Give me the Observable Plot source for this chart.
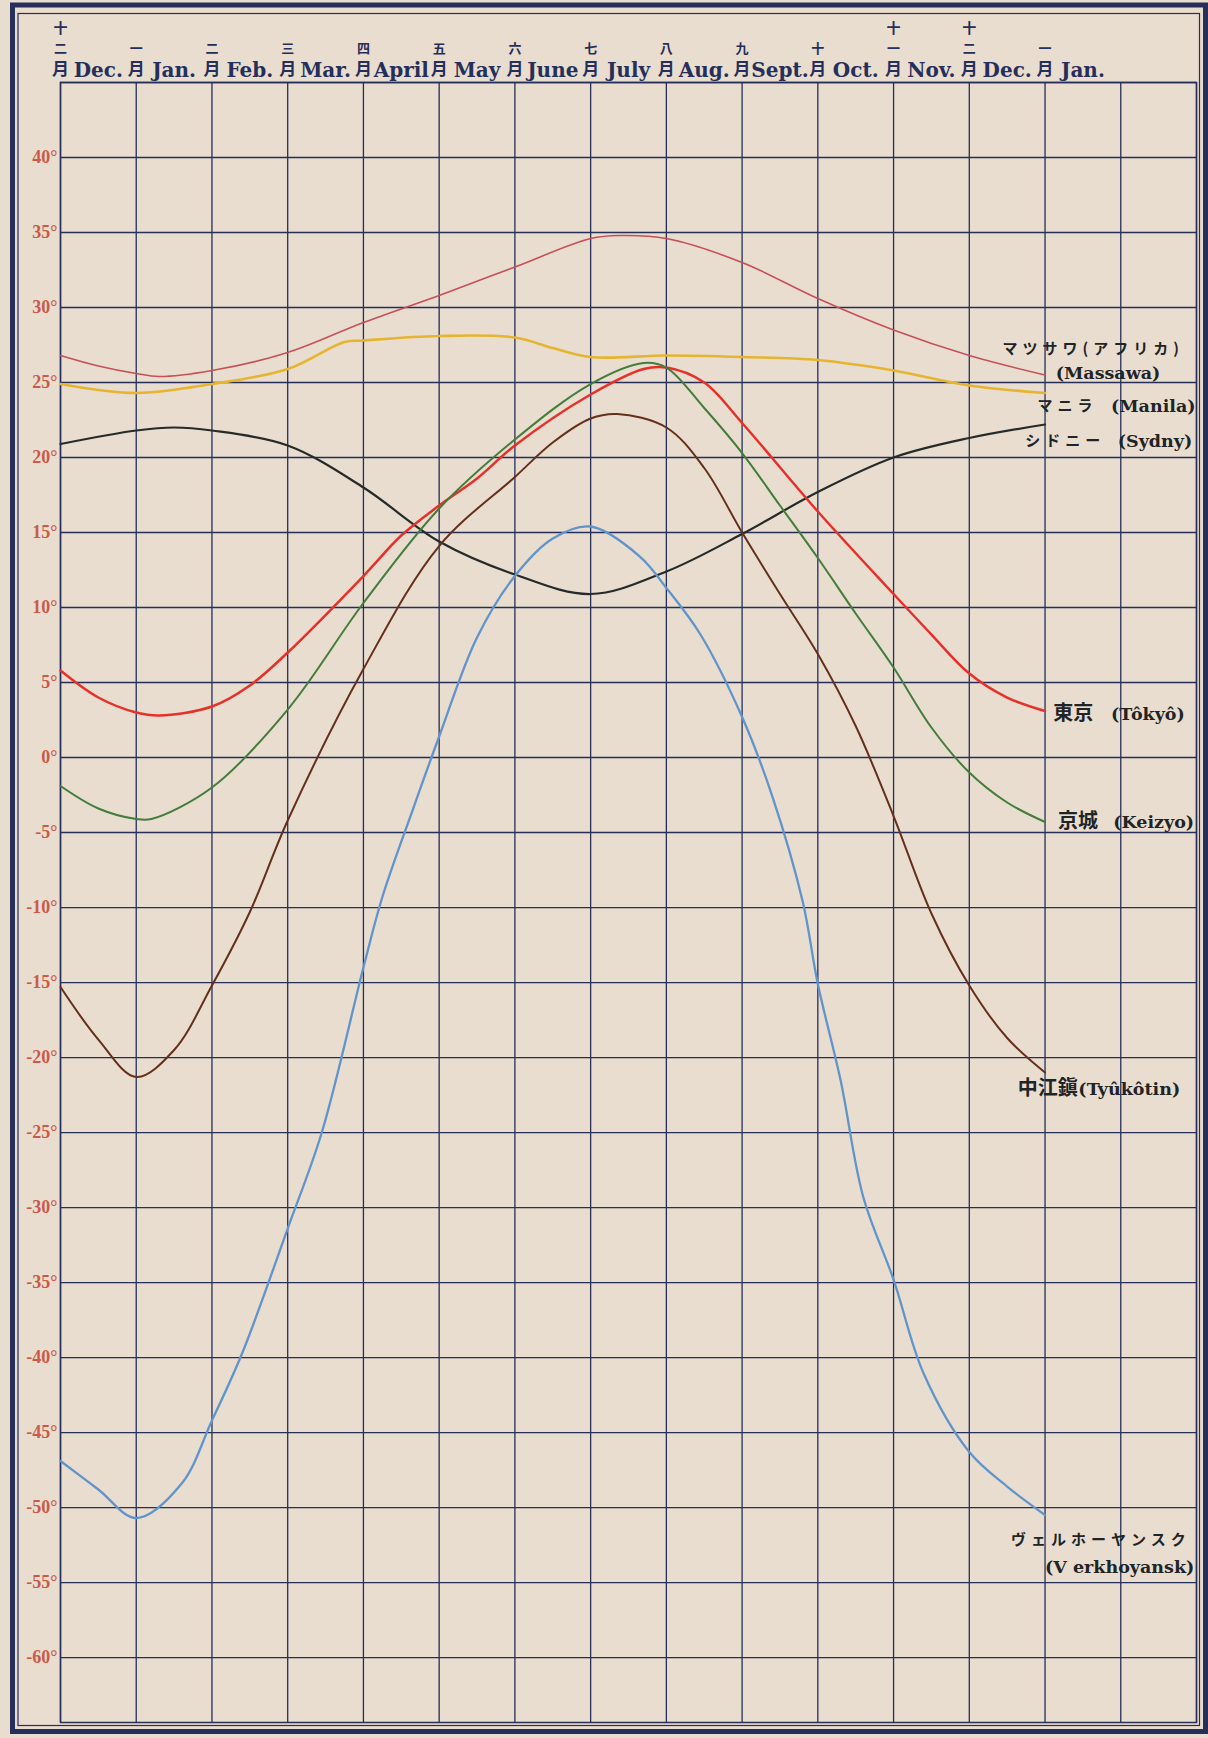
<!DOCTYPE html>
<html>
<head>
<meta charset="utf-8">
<script src="https://cdn.jsdelivr.net/npm/d3@7"></script>
<script src="https://cdn.jsdelivr.net/npm/@observablehq/plot@0.6"></script>
<style>
html, body { margin: 0; padding: 0; background: #e9ddcf; }
svg { display: block; }
</style>
</head>
<body>
<div id="chart"></div>
<script>
// ---- Header (month) labels ----
const monthIndex = [0,1,2,3,4,5,6,7,8,9,10,11,12,13];
const kanjiTop   = ["十","","","","","","","","","","","十","十",""];
const kanjiMid   = ["二","一","二","三","四","五","六","七","八","九","十","一","二","一"];
const englishMonths = ["Dec.","Jan.","Feb.","Mar.","April","May","June","July","Aug.","Sept.","Oct.","Nov.","Dec.","Jan."];

// ---- Y tick labels (°C) ----
const yTicks = [40,35,30,25,20,15,10,5,0,-5,-10,-15,-20,-25,-30,-35,-40,-45,-50,-55,-60];
const yGrid = [45,40,35,30,25,20,15,10,5,0,-5,-10,-15,-20,-25,-30,-35,-40,-45,-50,-55,-60];
const xGrid = [0,1,2,3,4,5,6,7,8,9,10,11,12,13,14,15];

// ---- Series: [month position, temperature] ----
const massawa = [[0,26.8],[0.5,26.1],[1,25.6],[1.3,25.4],[2,25.8],[3,27.0],[4,29.0],[5,30.8],[6,32.7],[7,34.6],[7.4,34.8],[8,34.6],[9,33.0],[10,30.6],[11,28.5],[12,26.8],[13,25.5]];
const manila = [[0,24.9],[1,24.3],[2,24.9],[3,25.9],[3.75,27.7],[4,27.8],[5,28.1],[6,28.0],[6.5,27.3],[7,26.7],[8,26.8],[9,26.7],[10,26.5],[11,25.8],[12,24.8],[13,24.3]];
const sydney = [[0,20.9],[1,21.8],[1.5,22.0],[2,21.8],[3,20.8],[4,18.0],[5,14.4],[6,12.2],[7,10.9],[8,12.4],[9,14.9],[10,17.7],[11,20.0],[12,21.3],[13,22.2]];
const tokyo = [[0,5.8],[0.5,4.0],[1,3.0],[1.3,2.8],[2,3.4],[2.5,4.8],[3,7.0],[4,12.1],[4.5,14.8],[5,16.8],[5.5,18.6],[6,20.8],[7,24.2],[7.7,25.9],[8,26.0],[8.5,25.0],[9,22.3],[10,16.4],[11,10.9],[11.5,8.2],[12,5.6],[12.5,4.0],[13,3.1]];
const keizyo = [[0,-1.9],[0.5,-3.4],[1,-4.1],[1.2,-4.1],[2,-2.0],[3,3.2],[4,10.3],[5,16.6],[6,21.2],[7,24.9],[7.7,26.3],[8,26.0],[8.5,23.3],[9,20.3],[9.5,16.8],[10,13.3],[10.5,9.6],[11,6.0],[11.5,2.0],[12,-1.0],[12.5,-3.0],[13,-4.3]];
const tyukotin = [[0,-15.3],[0.5,-18.8],[1,-21.3],[1.5,-19.5],[2,-15.2],[2.5,-10.3],[3,-4.2],[4,5.9],[5,14.1],[6,18.7],[6.5,21.0],[7,22.6],[7.35,22.9],[8,22.0],[8.5,19.3],[9,15.0],[9.5,10.9],[10,6.9],[10.5,2.1],[11,-3.9],[11.5,-10.4],[12,-15.2],[12.5,-18.7],[13,-21.0]];
const verkhoyansk = [[0,-46.9],[0.5,-48.8],[1,-50.7],[1.6,-48.4],[2,-44.2],[2.4,-39.7],[3,-31.4],[3.45,-25.0],[4,-14.0],[4.25,-9.3],[4.65,-3.5],[5,1.4],[5.5,8.0],[6,12.1],[6.5,14.6],[7,15.4],[7.65,13.4],[8,11.3],[8.45,8.2],[9,2.7],[9.4,-2.6],[9.8,-9.6],[10,-15.1],[10.3,-21.5],[10.6,-29.3],[11,-34.8],[11.4,-41.1],[12,-46.3],[12.5,-48.6],[13,-50.5]];

// ---- Station labels (Japanese part / romanised part) ----
const kanaLabels = ["マツサワ(アフリカ)","マニラ","シドニー","ヴェルホーヤンスク"];
const kanaX = [12.44, 12.90, 12.74, 12.55];
const kanaY = [27.2, 23.4, 21.1, -52.2];
const kanjiLabels = ["東京","京城","中江鎭"];
const kanjiX = [13.11, 13.17, 12.64];
const kanjiY = [2.9, -4.3, -22.1];
const romanLabels = ["(Massawa)","(Manila)","(Sydny)","(Tôkyô)","(Keizyo)","(Tyûkôtin)","(V erkhoyansk)"];
const romanX = [13.14, 13.87, 13.96, 13.87, 13.90, 13.44, 13.0];
const romanY = [25.6, 23.4, 21.1, 2.9, -4.3, -22.1, -54.0];

// ---- Build tables ----
const stations = [
  {name: "Massawa", data: massawa, color: "#c65058", w: 1.6},
  {name: "Manila", data: manila, color: "#e5b531", w: 2.6},
  {name: "Sydney", data: sydney, color: "#262b2a", w: 2.2},
  {name: "Tokyo", data: tokyo, color: "#e6312b", w: 2.5},
  {name: "Keizyo", data: keizyo, color: "#437d3b", w: 2.0},
  {name: "Tyukotin", data: tyukotin, color: "#64301c", w: 2.0},
  {name: "Verkhoyansk", data: verkhoyansk, color: "#6094cb", w: 2.3}
];

const navy = "#252f5a";
const ink = "#1f2426";
const red = "#cb5a4a";

const lineMarks = stations.map(s =>
  Plot.line(s.data.map(([m, t]) => ({m, t})), {
    x: "m", y: "t", stroke: s.color, strokeWidth: s.w, curve: "catmull-rom"
  })
);

const kana = kanaLabels.map((t, i) => ({t, x: kanaX[i], y: kanaY[i]}));
const kanji = kanjiLabels.map((t, i) => ({t, x: kanjiX[i], y: kanjiY[i]}));
const roman = romanLabels.map((t, i) => ({t, x: romanX[i], y: romanY[i]}));

const chart = Plot.plot({
  width: 1208,
  height: 1738,
  marginTop: 82,
  marginLeft: 60,
  marginRight: 12,
  marginBottom: 16,
  x: {domain: [0, 15], axis: null},
  y: {domain: [-64.33, 45], axis: null},
  style: {background: "#e9ddcf", overflow: "visible"},
  marks: [
    // outer decorative frames
    Plot.frame({stroke: navy, strokeWidth: 5, insetLeft: -48, insetTop: -77.5, insetRight: -9, insetBottom: -9}),
    Plot.frame({stroke: navy, strokeWidth: 1.2, insetLeft: -42.5, insetTop: -69, insetRight: -3, insetBottom: -3}),
    // grid
    Plot.gridX(xGrid, {stroke: navy, strokeOpacity: 1, strokeWidth: 1.3}),
    Plot.gridY(yGrid, {stroke: navy, strokeOpacity: 1, strokeWidth: 1.3}),
    Plot.frame({stroke: navy, strokeWidth: 1.5}),
    // series
    ...lineMarks,
    // y labels
    Plot.text(yTicks, {y: d => d, text: d => `${d}°`, frameAnchor: "left", textAnchor: "end", dx: -3,
      fontSize: 18, fontFamily: "Liberation Serif", fontWeight: "bold", fill: red}),
    // header
    Plot.text(monthIndex, {x: d => d, text: () => "月", frameAnchor: "top", dy: -20,
      fontSize: 17, fontFamily: "Noto Sans CJK JP", fontWeight: "bold", fill: navy}),
    Plot.text(monthIndex, {x: d => d, text: d => kanjiMid[d], frameAnchor: "top", dy: -39,
      fontSize: 13, fontFamily: "Noto Sans CJK JP", fontWeight: "bold", fill: navy}),
    Plot.text(monthIndex.filter(d => kanjiTop[d]), {x: d => d, text: d => kanjiTop[d], frameAnchor: "top", dy: -59,
      fontSize: 14, fontFamily: "Noto Sans CJK JP", fontWeight: "bold", fill: navy}),
    Plot.text(monthIndex, {x: d => d + 0.5, text: d => englishMonths[d], frameAnchor: "top", dy: -20,
      fontSize: 20, fontFamily: "DejaVu Serif", fontWeight: "bold", fill: navy}),
    // station labels
    Plot.text(kana, {x: "x", y: "y", text: "t", textAnchor: "start", fontSize: 15,
      fontFamily: "Noto Sans CJK JP", fontWeight: "bold", fill: ink}),
    Plot.text(kanji, {x: "x", y: "y", text: "t", textAnchor: "start", fontSize: 20,
      fontFamily: "Noto Sans CJK JP", fontWeight: "bold", fill: ink}),
    Plot.text(roman, {x: "x", y: "y", text: "t", textAnchor: "start", fontSize: 17.5,
      fontFamily: "DejaVu Serif", fontWeight: "bold", fill: ink})
  ]
});

// widen the spacing of the katakana labels, as printed
d3.select(chart).selectAll("text")
  .filter(function() { return kanaLabels.includes(this.textContent); })
  .style("letter-spacing", "5px");
document.getElementById("chart").appendChild(chart);
</script>
</body>
</html>
